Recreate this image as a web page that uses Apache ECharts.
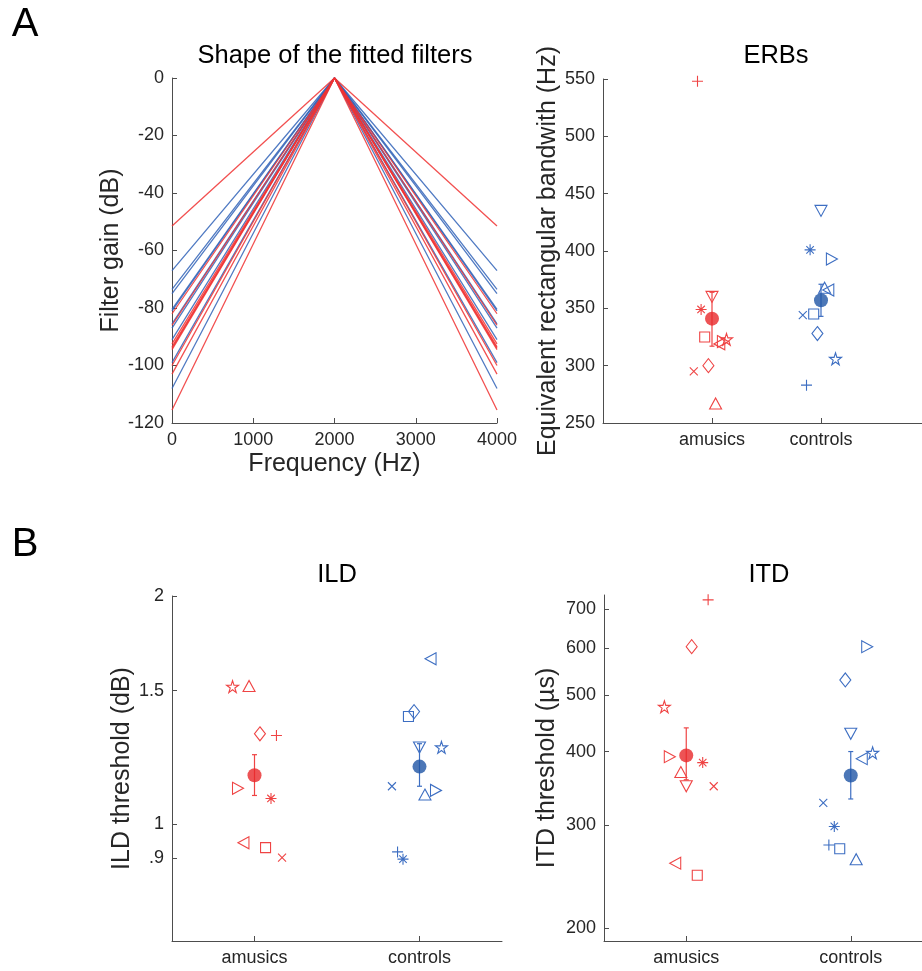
<!DOCTYPE html>
<html><head><meta charset="utf-8">
<script src="https://cdn.jsdelivr.net/npm/echarts@6/dist/echarts.min.js"></script>
<style>html,body{margin:0;padding:0;background:#fff}#c{width:922px;height:971px}</style>
</head><body><div id="c"></div>
<script>
// ---------------- data ----------------
// Panel A (left): filter gain (dB) at the band edges (0 Hz and 4000 Hz), peak 0 dB at 2000 Hz
const filterFreqs = [0, 2000, 4000];
const filterEdgeAmusics = [-51.5, -82, -86, -92.5, -93.5, -94, -94.5, -100, -103, -115.5];
const filterEdgeControls = [-67, -73.5, -75, -80.5, -81, -85.5, -87, -91, -99, -108];

// listener markers (same order in every value array below)
const markers = ['+', '*', 'x', 's', 'd', '^', 'v', '>', '<', 'p'];
const groupNames = ['amusics', 'controls'];
const groupPos = [1, 2];

// horizontal jitter of individual points (axis units)
const jitterA = [0.133, 0.1, 0.167, 0.067, 0.033, -0.033, 0, -0.1, -0.067, -0.133];
const jitterB = [-0.133, -0.1, -0.167, -0.067, -0.033, 0.033, 0, 0.1, 0.067, 0.133];

// Panel A (right): ERBs (Hz)
const erbAmusics = [548, 349, 295, 325, 300, 267, 360, 321, 319, 323];
const erbControls = [283, 401, 344, 345, 328, 368, 435, 393, 366, 306];
const erbMean = [341, 357];
const erbErrLow = [317, 343];
const erbErrHigh = [364, 371];
const erbTicks = [250, 300, 350, 400, 450, 500, 550];

// Panel B (left): ILD thresholds (dB); 'v' amusic not visible (hidden by the mean)
const ildAmusics = [1.308, 1.080, 0.902, 0.930, 1.315, 1.521, null, 1.114, 0.944, 1.518];
const ildControls = [0.918, 0.898, 1.121, 1.386, 1.407, 1.093, 1.261, 1.107, 1.652, 1.262];
const ildMean = [1.159, 1.19];
const ildErrLow = [1.090, 1.121];
const ildErrHigh = [1.234, 1.276];
const ildTicks = [0.9, 1, 1.5, 2];

// Panel B (right): ITD thresholds (µs)
const itdAmusics = [726, 383, 349, 246, 604, 369, 349, 392, 258, 477];
const itdControls = [277, 298, 327, 273, 530, 262, 429, 604, 389, 398];
const itdMean = [394, 364];
const itdErrLow = [358, 332];
const itdErrHigh = [439, 400];
const itdTicks = [200, 300, 400, 500, 600, 700];

// ---------------- styling ----------------
const FONT = '"Liberation Sans", Arial, Helvetica, sans-serif';
const RED = '#ef4444', RED_MEAN = '#e8282b', RED_LINE = 'rgba(240,50,50,0.85)';
const BLUE = '#3d6ec2', BLUE_MEAN = '#1f55a5', BLUE_LINE = 'rgba(50,100,185,0.85)';
const AX = '#4d4d4d', TXT = '#262626';

const SHAPES = {
  '+': ['path://M5,0L5,10M0,5L10,5', 11],
  '*': ['path://M5,0L5,10M0,5L10,5M1.6,1.6L8.4,8.4M8.4,1.6L1.6,8.4', 11],
  'x': ['path://M0,0L10,10M10,0L0,10', 8],
  's': ['rect', 10],
  'd': ['diamond', [11, 14]],
  '^': ['path://M5,0L10,9L0,9Z', [12, 11]],
  'v': ['path://M0,0L10,0L5,9Z', [12, 11]],
  '>': ['path://M0,0L9,5L0,10Z', [11, 12]],
  '<': ['path://M9,0L0,5L9,10Z', [11, 12]],
  'p': ['path://M5,0L6.123,3.455L9.755,3.455L6.817,5.59L7.939,9.045L5,6.91L2.061,9.045L3.183,5.59L0.245,3.455L3.877,3.455Z', 12]
};

function pts(center, vals, jit) {
  const out = [];
  vals.forEach((v, i) => {
    if (v == null) return;
    out.push({
      value: [center + jit[i], v],
      symbol: SHAPES[markers[i]][0],
      symbolSize: SHAPES[markers[i]][1]
    });
  });
  return out;
}

function groupSeries(axis, gi, vals, jit, color) {
  return {
    type: 'scatter', xAxisIndex: axis, yAxisIndex: axis, silent: true, z: 3,
    data: pts(groupPos[gi], vals, jit),
    itemStyle: { color: 'rgba(0,0,0,0)', borderColor: color, borderWidth: 1.1, opacity: 1 }
  };
}

function errSeries(axis, gi, lo, hi, color) {
  return {
    type: 'custom', xAxisIndex: axis, yAxisIndex: axis, silent: true, z: 4,
    data: [[groupPos[gi], lo[gi], hi[gi]]],
    renderItem: function (params, api) {
      const x = api.value(0);
      const a = api.coord([x, api.value(1)]);
      const b = api.coord([x, api.value(2)]);
      const w = 2.5;
      const st = { stroke: color, lineWidth: 1.2 };
      return {
        type: 'group', children: [
          { type: 'line', shape: { x1: a[0], y1: a[1], x2: b[0], y2: b[1] }, style: st },
          { type: 'line', shape: { x1: a[0] - w, y1: a[1], x2: a[0] + w, y2: a[1] }, style: st },
          { type: 'line', shape: { x1: b[0] - w, y1: b[1], x2: b[0] + w, y2: b[1] }, style: st }
        ]
      };
    }
  };
}

function meanSeries(axis, gi, means, color) {
  return {
    type: 'scatter', xAxisIndex: axis, yAxisIndex: axis, silent: true, z: 5,
    data: [[groupPos[gi], means[gi]]], symbol: 'circle', symbolSize: 14,
    itemStyle: { color: color }
  };
}

function baseAxis(extra) {
  return Object.assign({
    axisLine: { show: true, onZero: false, lineStyle: { color: AX, width: 1 } },
    axisTick: { show: true, inside: true, length: 5, lineStyle: { color: AX } },
    axisLabel: { color: TXT, fontSize: 18, fontFamily: FONT, margin: 8, formatter: v => String(v) },
    splitLine: { show: false },
    nameLocation: 'middle',
    nameTextStyle: { color: TXT, fontSize: 25, fontFamily: FONT }
  }, extra);
}

function catAxis(grid, min, max) {
  const ax = baseAxis({ gridIndex: grid, type: 'value', min: min, max: max });
  ax.axisTick = Object.assign({}, ax.axisTick, { customValues: groupPos });
  ax.axisLabel = Object.assign({}, ax.axisLabel, {
    customValues: groupPos,
    formatter: v => groupNames[groupPos.indexOf(Math.round(v))] || ''
  });
  return ax;
}

// ---------------- series ----------------
const series = [];
filterEdgeControls.forEach(g => series.push({
  type: 'line', xAxisIndex: 0, yAxisIndex: 0, silent: true, showSymbol: false, symbol: 'none',
  data: filterFreqs.map((f, i) => [f, i === 1 ? 0 : g]),
  lineStyle: { color: BLUE_LINE, width: 1.3 }, z: 2
}));
filterEdgeAmusics.forEach(g => series.push({
  type: 'line', xAxisIndex: 0, yAxisIndex: 0, silent: true, showSymbol: false, symbol: 'none',
  data: filterFreqs.map((f, i) => [f, i === 1 ? 0 : g]),
  lineStyle: { color: RED_LINE, width: 1.3 }, z: 3
}));

// ERB
series.push(groupSeries(1, 0, erbAmusics, jitterB, RED));
series.push(groupSeries(1, 1, erbControls, jitterB, BLUE));
series.push(errSeries(1, 0, erbErrLow, erbErrHigh, RED));
series.push(errSeries(1, 1, erbErrLow, erbErrHigh, BLUE));
series.push(meanSeries(1, 0, erbMean, RED_MEAN));
series.push(meanSeries(1, 1, erbMean, BLUE_MEAN));
// ILD
series.push(groupSeries(2, 0, ildAmusics, jitterA, RED));
series.push(groupSeries(2, 1, ildControls, jitterB, BLUE));
series.push(errSeries(2, 0, ildErrLow, ildErrHigh, RED));
series.push(errSeries(2, 1, ildErrLow, ildErrHigh, BLUE));
series.push(meanSeries(2, 0, ildMean, RED_MEAN));
series.push(meanSeries(2, 1, ildMean, BLUE_MEAN));
// ITD
series.push(groupSeries(3, 0, itdAmusics, jitterA, RED));
series.push(groupSeries(3, 1, itdControls, jitterB, BLUE));
series.push(errSeries(3, 0, itdErrLow, itdErrHigh, RED));
series.push(errSeries(3, 1, itdErrLow, itdErrHigh, BLUE));
series.push(meanSeries(3, 0, itdMean, RED_MEAN));
series.push(meanSeries(3, 1, itdMean, BLUE_MEAN));

function txt(text, x, y, size) {
  return {
    type: 'text', x: x, y: y, silent: true,
    style: { text: text, fill: '#000', fontSize: size, fontFamily: FONT,
      align: 'center', verticalAlign: 'middle', textAlign: 'center', textVerticalAlign: 'middle' }
  };
}

// the right-hand axes run off the 922 px canvas in the original; the grid is cut at the edge
const W = 922;
const option = {
  animation: false,
  backgroundColor: '#fff',
  textStyle: { fontFamily: FONT },
  grid: [
    { left: 172, top: 78, width: 325, height: 345 },
    { left: 603, top: 79, width: W - 603, height: 344 },
    { left: 172, top: 596, width: 330, height: 345 },
    { left: 604, top: 595, width: W - 604, height: 346 }
  ],
  xAxis: [
    baseAxis({ gridIndex: 0, type: 'value', min: 0, max: 4000, interval: 1000,
      name: 'Frequency (Hz)', nameGap: 29 }),
    catAxis(1, 0, (W - 603) / 109),
    catAxis(2, 0.5, 2.5),
    catAxis(3, 0.5, 0.5 + (W - 604) / 164.5)
  ],
  yAxis: [
    baseAxis({ gridIndex: 0, type: 'value', min: -120, max: 0, interval: 20,
      name: 'Filter gain (dB)', nameGap: 33 }),
    baseAxis({ gridIndex: 1, type: 'value', min: erbTicks[0], max: erbTicks[erbTicks.length - 1], interval: 50,
      name: 'Equivalent rectangular bandwith (Hz)', nameGap: 42 }),
    (function () {
      const ax = baseAxis({ gridIndex: 2, type: 'log', logBase: 10, min: 0.7, max: 2,
        name: 'ILD threshold (dB)', nameGap: 35 });
      ax.axisTick = Object.assign({}, ax.axisTick, { customValues: ildTicks });
      ax.axisLabel = Object.assign({}, ax.axisLabel, { customValues: ildTicks,
        formatter: v => (Math.abs(v - 0.9) < 1e-6 ? '.9' : String(+v.toFixed(3))) });
      return ax;
    })(),
    (function () {
      const ax = baseAxis({ gridIndex: 3, type: 'log', logBase: 10, min: 190, max: 740,
        name: 'ITD threshold (µs)', nameGap: 44 });
      ax.axisTick = Object.assign({}, ax.axisTick, { customValues: itdTicks });
      ax.axisLabel = Object.assign({}, ax.axisLabel, { customValues: itdTicks,
        formatter: v => String(Math.round(v)) });
      return ax;
    })()
  ],
  graphic: [
    txt('A', 25, 25, 40),
    txt('B', 25, 545, 40),
    txt('Shape of the fitted filters', 335, 56, 25.5),
    txt('ERBs', 776, 56, 25.5),
    txt('ILD', 337, 575, 25.5),
    txt('ITD', 769, 575, 25.5)
  ],
  series: series
};

const chart = echarts.init(document.getElementById('c'), null, { renderer: 'canvas' });
chart.setOption(option);
</script>
</body></html>
